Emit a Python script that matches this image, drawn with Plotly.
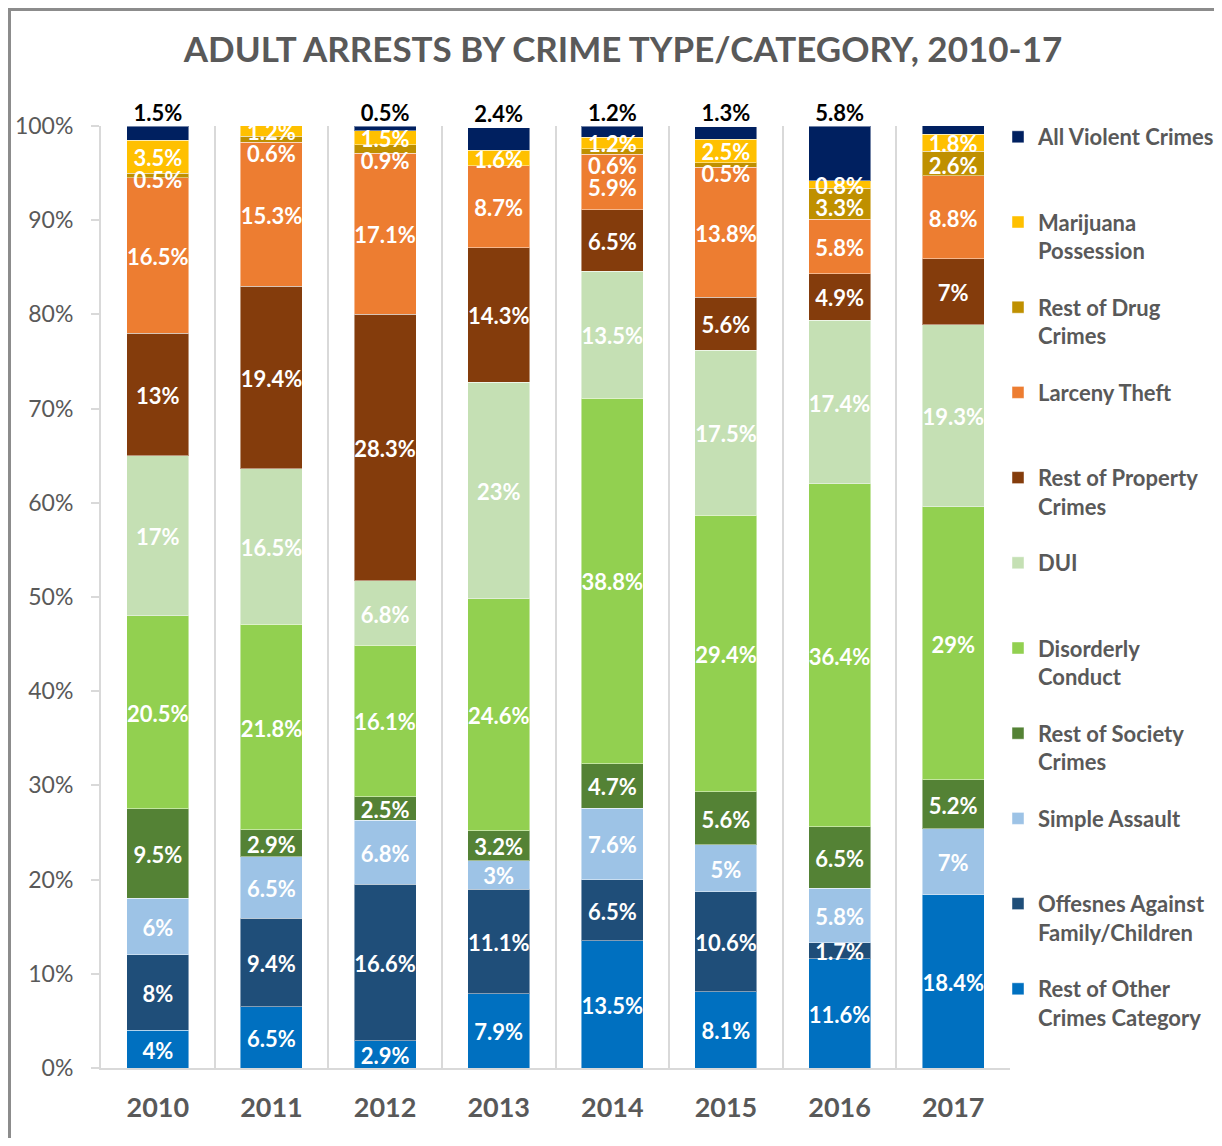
import plotly.graph_objects as go

years = ["2010", "2011", "2012", "2013", "2014", "2015", "2016", "2017"]

# bottom to top stacking order
rest_other = [4, 6.5, 2.9, 7.9, 13.5, 8.1, 11.6, 18.4]
family = [8, 9.4, 16.6, 11.1, 6.5, 10.6, 1.7, None]
simple_assault = [6, 6.5, 6.8, 3, 7.6, 5, 5.8, 7]
rest_society = [9.5, 2.9, 2.5, 3.2, 4.7, 5.6, 6.5, 5.2]
disorderly = [20.5, 21.8, 16.1, 24.6, 38.8, 29.4, 36.4, 29]
dui = [17, 16.5, 6.8, 23, 13.5, 17.5, 17.4, 19.3]
rest_property = [13, 19.4, 28.3, 14.3, 6.5, 5.6, 4.9, 7]
larceny = [16.5, 15.3, 17.1, 8.7, 5.9, 13.8, 5.8, 8.8]
rest_drug = [0.5, 0.6, 0.9, None, 0.6, 0.5, 3.3, 2.6]
marijuana = [3.5, 1.2, 1.5, 1.6, 1.2, 2.5, 0.8, 1.8]
violent = [1.5, None, 0.5, 2.4, 1.2, 1.3, 5.8, 1]

series = [
    ("Rest of Other<br>Crimes Category", rest_other, "#0070C0"),
    ("Offesnes Against<br>Family/Children", family, "#1F4E79"),
    ("Simple Assault<br> ", simple_assault, "#9DC3E6"),
    ("Rest of Society<br>Crimes", rest_society, "#548235"),
    ("Disorderly<br>Conduct", disorderly, "#92D050"),
    ("DUI<br> ", dui, "#C5E0B4"),
    ("Rest of Property<br>Crimes", rest_property, "#843C0C"),
    ("Larceny Theft<br> ", larceny, "#ED7D31"),
    ("Rest of Drug<br>Crimes", rest_drug, "#BF9000"),
    ("Marijuana<br>Possession", marijuana, "#FFC000"),
    ("All Violent Crimes<br> ", violent, "#002060"),
]

FONT = "Lato"
GRAY = "#595959"
LABEL_SIZE = 22

# page offset: the browser body adds an 8px margin
OFF = 8
W, H = 1222 - 2 * OFF, 1146 - 2 * OFF
L, R, T, B = 101 - OFF, 1010 - OFF, 126 - OFF, 1068 - OFF
pw, ph = R - L, B - T
PX = 100.0 / ph  # axis units per pixel


def px(x):
    return (x - L) / pw


def py(y):
    return (B - y) / ph


fig = go.Figure()
n = len(series)
for i, (name, vals, color) in enumerate(series):
    fig.add_trace(go.Bar(
        x=years, y=vals, name=name, legendgroup=f"g{i}", legendrank=1000 - i * 10,
        marker=dict(color=color, line=dict(color="rgba(255,255,255,0.45)", width=1)),
        hovertemplate="%{x}: %{y}%<extra></extra>",
    ))

# label positions: segment centres, nudged apart (top-down) where they would collide
MIN_GAP = 22 * PX
label_y = [[None] * len(years) for _ in range(n)]
for j in range(len(years)):
    cum = 0.0
    centres = []
    for i, (_, vals, _) in enumerate(series):
        v = vals[j]
        if v is None:
            continue
        if i == n - 1:
            label_y[i][j] = cum + v
        else:
            centres.append([i, cum + v / 2])
        cum += v
    prev = None
    for item in reversed(centres):
        if prev is not None and prev - item[1] < MIN_GAP:
            item[1] = prev - MIN_GAP
        prev = item[1]
        label_y[item[0]][j] = item[1] - 4 * PX

for i, (name, vals, color) in enumerate(series):
    is_top = i == n - 1
    xs, ys, ts = [], [], []
    for j, v in enumerate(vals):
        if v is None:
            continue
        xs.append(years[j])
        ys.append(label_y[i][j])
        ts.append(f"{v:g}%")
    fig.add_trace(go.Scatter(
        x=xs, y=ys, text=ts, mode="text",
        textposition="top center" if is_top else "middle center",
        textfont=dict(family=FONT, size=LABEL_SIZE, color="black" if is_top else "white", weight="bold"),
        showlegend=False, hoverinfo="skip", cliponaxis=False,
    ))

fig.update_layout(
    width=W, height=H,
    barmode="stack", bargap=0.454,
    margin=dict(l=L, r=W - R, t=T, b=H - B, autoexpand=False),
    paper_bgcolor="white", plot_bgcolor="white",
    font=dict(family=FONT, color=GRAY),
    title=dict(
        text="ADULT ARRESTS BY CRIME TYPE/CATEGORY, 2010-17",
        x=px(623 - OFF), xref="paper", xanchor="center",
        y=1 - (50 - OFF) / H, yref="container", yanchor="middle",
        font=dict(family=FONT, size=35, color=GRAY, weight="bold"),
    ),
    legend=dict(
        traceorder="grouped", tracegroupgap=25, maxheight=1.0,
        x=px(998 - OFF), xanchor="left", y=py(116 - OFF), yanchor="top",
        valign="top",
        font=dict(family=FONT, size=22, color=GRAY, weight="bold"),
        bgcolor="rgba(0,0,0,0)",
    ),
    xaxis=dict(
        type="category", tickson="boundaries", showgrid=True,
        gridcolor="#D9D9D9", gridwidth=2, showline=True, linecolor="#D9D9D9", linewidth=2,
        ticks="", tickfont=dict(family=FONT, size=27, color=GRAY, weight="bold"),
        ticklabelstandoff=15,
    ),
    yaxis=dict(
        range=[0, 100], dtick=10, ticksuffix="%", showgrid=False,
        showline=True, linecolor="#D9D9D9", linewidth=2,
        ticks="outside", ticklen=8, tickcolor="#D9D9D9", tickwidth=2,
        tickfont=dict(family=FONT, size=23, color=GRAY),
        ticklabelstandoff=13, zeroline=False,
    ),
    shapes=[dict(
        type="rect", xref="paper", yref="paper",
        x0=px(1.5), x1=px(W + 30), y0=py(H + 30), y1=py(1.5),
        line=dict(color="#8C8C8C", width=3), fillcolor="rgba(0,0,0,0)", layer="below",
    )],
)

fig.write_html("out.html")
